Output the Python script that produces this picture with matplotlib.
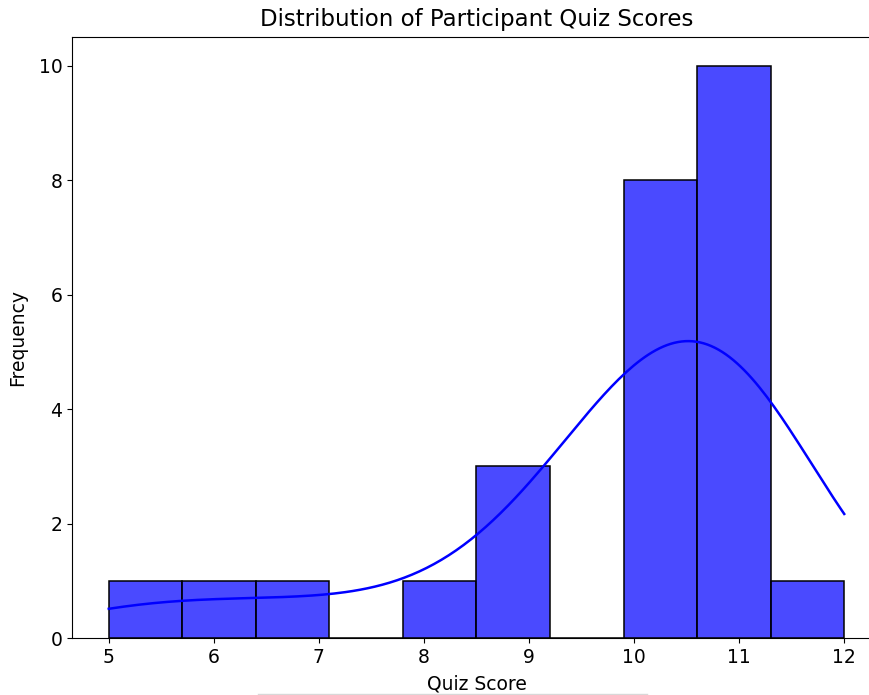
import matplotlib
matplotlib.use("Agg")
import matplotlib.pyplot as plt
import seaborn as sns
import numpy as np
from matplotlib.lines import Line2D

score_values = [5, 6, 7, 8, 9, 10, 11, 12]
score_counts = [1, 1, 1, 1, 3, 8, 10, 1]
scores = np.repeat(score_values, score_counts)

plt.rcParams['font.size'] = 13.5
fig = plt.figure(figsize=(8.7, 6.95), dpi=100)
ax = fig.add_axes([72/870, 57/695, 809/870, 601/695])
sns.histplot(scores, bins=10, kde=True, color='blue', alpha=0.71,
             edgecolor='black', linewidth=1.1, ax=ax, line_kws={'linewidth': 1.8})
ax.set_title('Distribution of Participant Quiz Scores', fontsize=16.5, pad=8)
ax.set_xlabel('Quiz Score', fontsize=13.5, labelpad=5.5)
ax.set_ylabel('Frequency', fontsize=13.5, labelpad=8)
ax.tick_params(labelsize=13.5)
fig.add_artist(Line2D([258/870, 647/870], [1.5/695, 1.5/695], color='#d8d8d8', lw=1))
fig.savefig('out.png', dpi=100)
